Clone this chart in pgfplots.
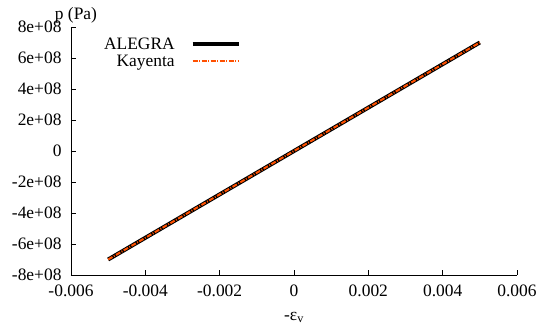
\documentclass[border=0pt]{standalone}
\usepackage{fontspec}
\setmainfont{Liberation Serif}
\usepackage{pgfplots}
\pgfplotsset{compat=1.18}
\definecolor{kay}{RGB}{255,80,0}
\begin{document}
\begin{tikzpicture}[font=\fontsize{17.5}{20}\selectfont]
\begin{axis}[
  scale only axis, width=446bp, height=248bp,
  at={(0,0)}, anchor=south west,
  xmin=-0.006, xmax=0.006, ymin=-8e8, ymax=8e8,
  axis x line*=bottom, axis y line*=left,
  axis line style={line width=1pt, black},
  tick align=inside, major tick length=5bp,
  tick style={black, line width=0.8pt},
  xtick={-0.006,-0.004,-0.002,0,0.002,0.004,0.006},
  xticklabels={-0.006,-0.004,-0.002,0,0.002,0.004,0.006},
  ytick={-8e8,-6e8,-4e8,-2e8,0,2e8,4e8,6e8,8e8},
  yticklabels={-8e+08,-6e+08,-4e+08,-2e+08,0,2e+08,4e+08,6e+08,8e+08},
  xticklabel style={yshift=-6bp},
  yticklabel style={xshift=-6bp},
  scaled ticks=false,
  xlabel={-ε\textsubscript{v}},
  xlabel style={at={(axis description cs:0.5,0)}, anchor=base, yshift=-45bp},
  ylabel={p (Pa)},
  ylabel style={rotate=-90, at={(axis description cs:0,1)}, anchor=south, xshift=5bp, yshift=0bp},
  legend image code/.code={\draw[#1] (0bp,0bp) -- (46bp,0bp);},
  legend style={draw=none, fill=none, at={(0.381,0.965)}, anchor=north east,
    inner sep=0pt, column sep=14bp, row sep=0bp},
  legend cell align=right, legend plot pos=right,
  clip=false
]
\addplot[black, line width=4bp] coordinates {
  (-0.005,-7e8) (-0.004,-5.6e8) (-0.003,-4.2e8) (-0.002,-2.8e8) (-0.001,-1.4e8)
  (0,0) (0.001,1.4e8) (0.002,2.8e8) (0.003,4.2e8) (0.004,5.6e8) (0.005,7e8)};
\addlegendentry{ALEGRA}
\addplot[kay, line width=2bp, dash pattern=on 5bp off 1.5bp on 1bp off 1.5bp] coordinates {
  (-0.005,-7e8) (-0.004,-5.6e8) (-0.003,-4.2e8) (-0.002,-2.8e8) (-0.001,-1.4e8)
  (0,0) (0.001,1.4e8) (0.002,2.8e8) (0.003,4.2e8) (0.004,5.6e8) (0.005,7e8)};
\addlegendentry{Kayenta}
\end{axis}
\pgfresetboundingbox
\useasboundingbox (-71bp,-57bp) rectangle (469bp,275bp);
\end{tikzpicture}
\end{document}
